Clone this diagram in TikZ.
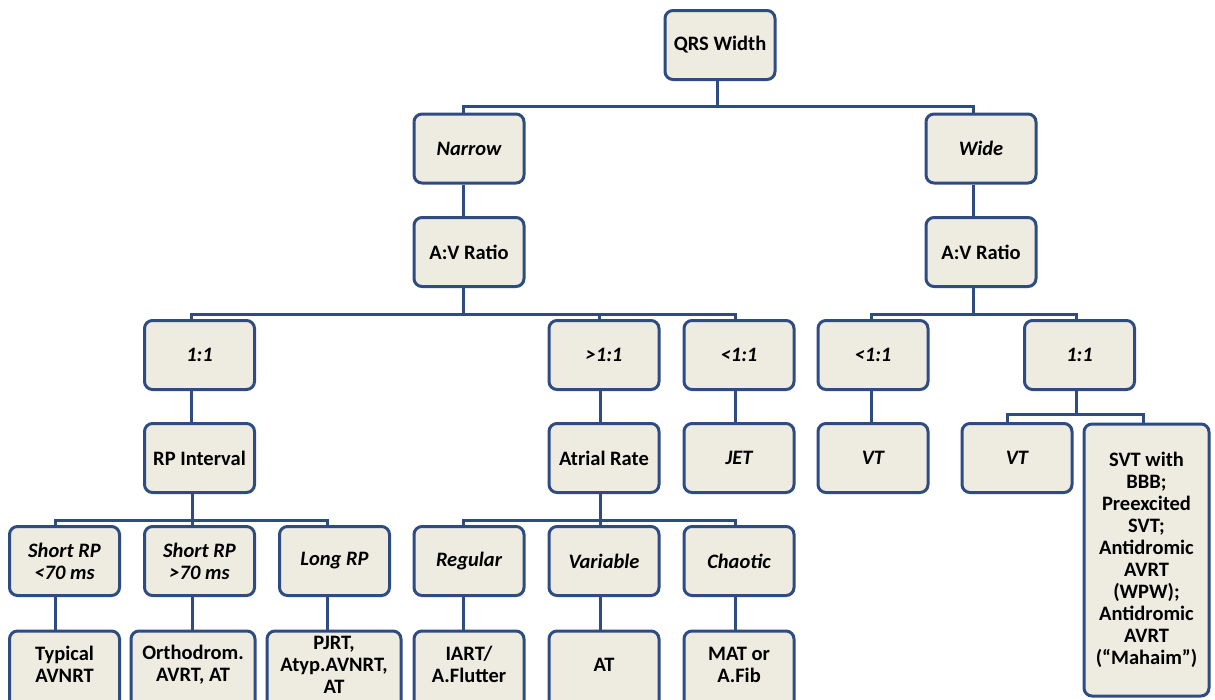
\documentclass[tikz,border=0pt]{standalone}
\usepackage{fontspec}
\setmainfont{Carlito}
\definecolor{boxfill}{HTML}{EEECE1}
\definecolor{boxline}{HTML}{2E4B82}
\begin{document}
\begin{tikzpicture}[x=1pt,y=-1pt,
  box/.style={draw=boxline, fill=boxfill, line width=3pt, rounded corners=8pt,
    minimum width=110pt, minimum height=69pt, inner sep=0pt, align=center,
    font=\fontsize{20.5}{22}\selectfont\bfseries},
  ital/.style={font=\fontsize{20.5}{22}\selectfont\bfseries\itshape},
  lastrow/.style={box, minimum height=90pt, anchor=north},
  conn/.style={draw=boxline, line width=3pt}]
\useasboundingbox (0,0) rectangle (1215,699);
\clip (0,0) rectangle (1215,699);
% row 1-3
\node[box] (qrs) at (720,45) {QRS Width};
\node[box,ital] (narrow) at (469,148.5) {Narrow};
\node[box,ital] (wide) at (981,148.5) {Wide};
\node[box] (avl) at (469,252) {A:V Ratio};
\node[box] (avr) at (981,252) {A:V Ratio};
% row 4
\node[box,ital] (one) at (199.5,355) {1:1};
\node[box,ital] (gt) at (604,355) {>1:1};
\node[box,ital] (lt) at (739,355) {<1:1};
\node[box,ital] (ltr) at (873,355) {<1:1};
\node[box,ital] (oner) at (1079.5,355) {1:1};
% row 5
\node[box] (rp) at (199.5,458) {RP Interval};
\node[box] (atrial) at (604,458) {Atrial Rate};
\node[box,ital] (jet) at (739,458) {JET};
\node[box,ital] (vt1) at (873,458) {VT};
\node[box,ital] (vt2) at (1017,458) {VT};
\node[box, minimum width=125pt, minimum height=272pt] (svt) at (1146.5,560)
  {SVT with\\BBB;\\Preexcited\\SVT;\\Antidromic\\AVRT\\(WPW);\\Antidromic\\AVRT\\(“Mahaim”)};
% row 6
\node[box,ital] (s70) at (64.5,561) {Short RP\\<70 ms};
\node[box,ital] (l70) at (199.5,561) {Short RP\\>70 ms};
\node[box,ital] (long) at (334.5,561) {Long RP};
\node[box,ital] (regular) at (469,561) {Regular};
\node[box,ital] (variable) at (604,561) {Variable};
\node[box,ital] (chaotic) at (739,561) {Chaotic};
% row 7 (cut off by the lower edge)
\node[lastrow] (typ) at (64.5,629.5) {Typical\\AVNRT\\[1pt]\mbox{}};
\node[lastrow, minimum width=124pt] (orth) at (193,629.5) {Orthodrom.\\AVRT, AT\\[3pt]\mbox{}};
\node[lastrow, minimum width=134pt] (pjrt) at (334,629.5) {PJRT,\\Atyp.AVNRT,\\AT\\[1pt]\mbox{}};
\node[lastrow] (iart) at (469,629.5) {IART/\\A.Flutter\\[1pt]\mbox{}};
\node[lastrow] (at) at (604,629.5) {AT\\[1pt]\mbox{}};
\node[lastrow] (mat) at (739,629.5) {MAT or\\A.Fib\\[1pt]\mbox{}};
% connectors
\draw[conn] ([xshift=-3pt]qrs.south) -- ++(0,25) -| ([xshift=-6pt]narrow.north);
\draw[conn] ([xshift=-3pt]qrs.south) -- ++(0,25) -| ([xshift=-8pt]wide.north);
\draw[conn] ([xshift=-6pt]narrow.south) -- ([xshift=-6pt]avl.north);
\draw[conn] ([xshift=-8pt]wide.south) -- ([xshift=-8pt]avr.north);
\draw[conn] ([xshift=-6pt]avl.south) -- ++(0,26) -| ([xshift=-8pt]one.north);
\draw[conn] ([xshift=-6pt]avl.south) -- ++(0,26) -| ([xshift=-5pt]gt.north);
\draw[conn] ([xshift=-6pt]avl.south) -- ++(0,26) -| ([xshift=-4pt]lt.north);
\draw[conn] ([xshift=-8pt]avr.south) -- ++(0,26) -| ([xshift=-2pt]ltr.north);
\draw[conn] ([xshift=-8pt]avr.south) -- ++(0,26) -| ([xshift=-3.5pt]oner.north);
\draw[conn] ([xshift=-8pt]one.south) -- ([xshift=-8pt]rp.north);
\draw[conn] ([xshift=-4pt]gt.south) -- ([xshift=-4pt]atrial.north);
\draw[conn] ([xshift=-4pt]lt.south) -- ([xshift=-4pt]jet.north);
\draw[conn] ([xshift=-2pt]ltr.south) -- ([xshift=-2pt]vt1.north);
\draw[conn] ([xshift=-3.5pt]oner.south) -- ++(0,23) -| ([xshift=-10pt]vt2.north);
\draw[conn] ([xshift=-3.5pt]oner.south) -- ++(0,23) -| ([xshift=-3.5pt]svt.north);
\draw[conn] ([xshift=-7.5pt]rp.south) -- ++(0,26) -| ([xshift=-9.5pt]s70.north);
\draw[conn] ([xshift=-7.5pt]rp.south) -- ++(0,26) -| ([xshift=-7.5pt]l70.north);
\draw[conn] ([xshift=-7.5pt]rp.south) -- ++(0,26) -| ([xshift=-7.5pt]long.north);
\draw[conn] ([xshift=-4pt]atrial.south) -- ++(0,26) -| ([xshift=-6pt]regular.north);
\draw[conn] ([xshift=-4pt]atrial.south) -- ++(0,26) -| ([xshift=-4pt]variable.north);
\draw[conn] ([xshift=-4pt]atrial.south) -- ++(0,26) -| ([xshift=-4pt]chaotic.north);
\draw[conn] ([xshift=-9.5pt]s70.south) -- ([xshift=-9.5pt]typ.north);
\draw[conn] ([xshift=-7.5pt]l70.south) -- ([xshift=-1pt]orth.north);
\draw[conn] ([xshift=-7.5pt]long.south) -- ([xshift=-7pt]pjrt.north);
\draw[conn] ([xshift=-6pt]regular.south) -- ([xshift=-6pt]iart.north);
\draw[conn] ([xshift=-4pt]variable.south) -- ([xshift=-4pt]at.north);
\draw[conn] ([xshift=-4pt]chaotic.south) -- ([xshift=-4pt]mat.north);
\end{tikzpicture}
\end{document}
